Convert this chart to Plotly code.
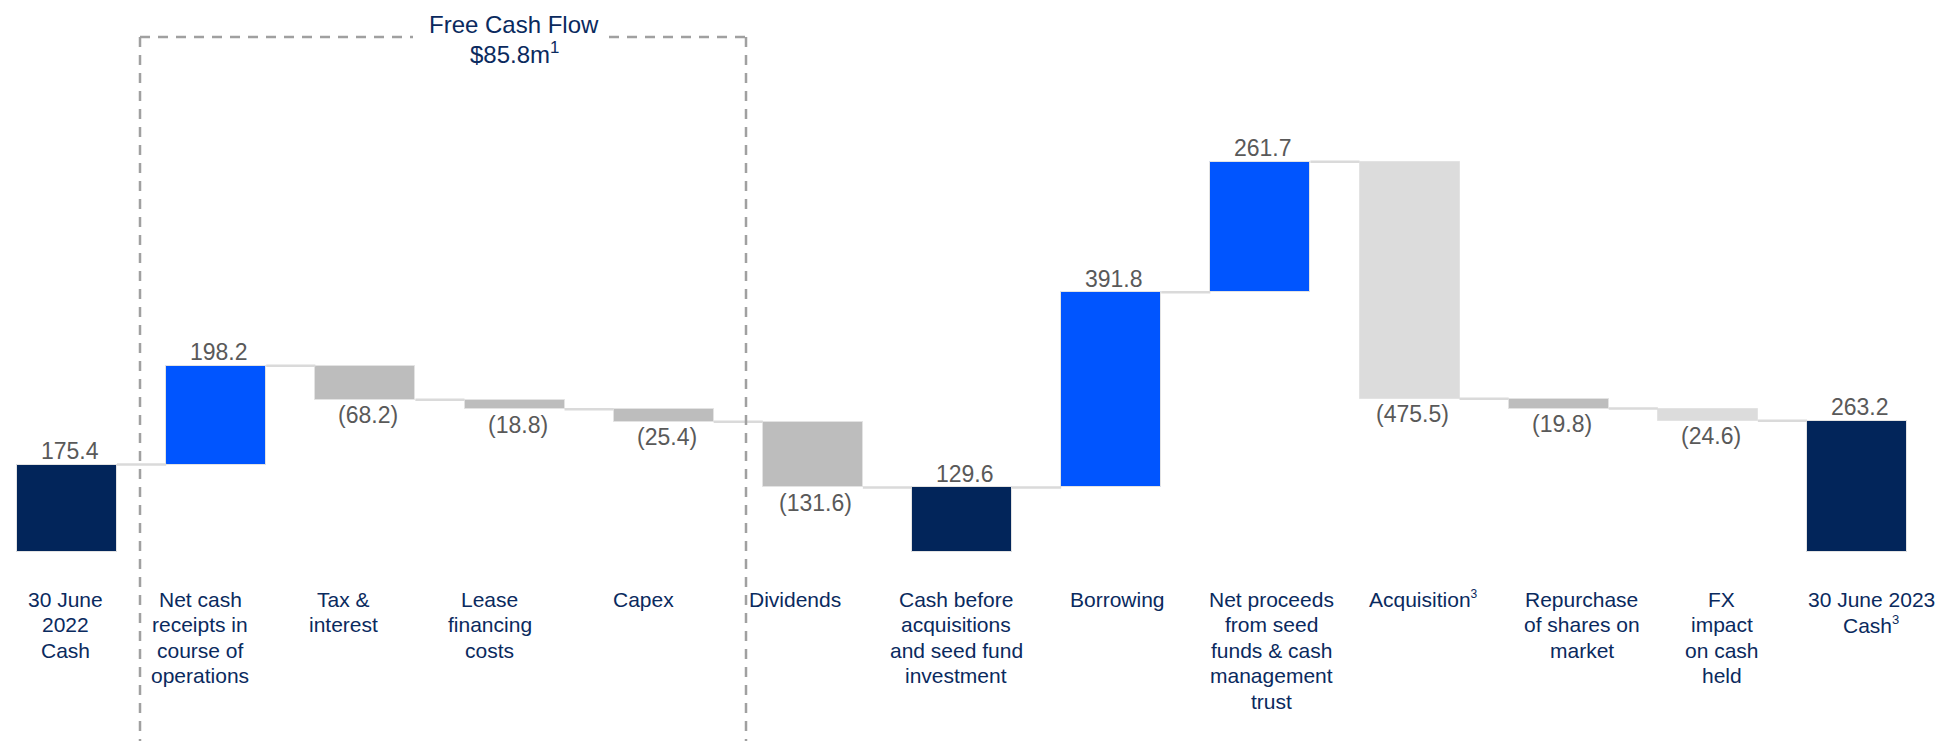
import plotly.graph_objects as go

# ---------------- data ----------------
categories = [
    "30 June<br>2022<br>Cash",
    "Net cash<br>receipts in<br>course of<br>operations",
    "Tax &<br>interest",
    "Lease<br>financing<br>costs",
    "Capex",
    "Dividends",
    "Cash before<br>acquisitions<br>and seed fund<br>investment",
    "Borrowing",
    "Net proceeds<br>from seed<br>funds & cash<br>management<br>trust",
    "Acquisition<sup><span style='font-size:12px'>3</span></sup>",
    "Repurchase<br>of shares on<br>market",
    "FX<br>impact<br>on cash<br>held",
    "30 June 2023<br>Cash<sup><span style='font-size:13px'>3</span></sup>",
]
values = [175.4, 198.2, -68.2, -18.8, -25.4, -131.6, 129.6, 391.8, 261.7, -475.5, -19.8, -24.6, 263.2]
measures = ["absolute", "relative", "relative", "relative", "relative", "relative", "total",
            "relative", "relative", "relative", "relative", "relative", "total"]
title_line1 = "Free Cash Flow"
title_line2 = "$85.8m<sup>1</sup>"

# ---------------- style ----------------
NAVY = "#02255A"
BLUE = "#0055FF"
GREY = "#BDBDBD"
LIGHT = "#DCDCDC"
bar_colors = [NAVY, BLUE, GREY, GREY, GREY, GREY, NAVY, BLUE, BLUE, LIGHT, GREY, LIGHT, NAVY]
TEXT_NAVY = "#0A2A5E"
VAL_GREY = "#595959"
FONT = "Arial, Liberation Sans, sans-serif"
WIN_W, WIN_H = 1944, 741
OFF = 8                      # default page margin of the html body
W, H = WIN_W - OFF, WIN_H - OFF
BASE_PX = 552          # window pixel row of the zero line
PX_PER_UNIT = 0.4984
STEP_PX = 149.17
FIRST_PX = 67
BAR_W = 100 / STEP_PX
label_dx = [-2, -16, -22, -25, -20, -18, -6, 6, 11, 14, 23, 14, 14]

def py(p):  # window pixel row -> paper y
    return 1 - (p - OFF) / H

def pxx(p):  # window pixel column -> paper x
    return (p - OFF) / W

# ---------------- build waterfall geometry from data ----------------
n = len(values)
xs = list(range(n))
bases, heights, levels = [], [], []
running = 0.0
for v, m in zip(values, measures):
    if m == "absolute":
        bases.append(0.0); heights.append(v); running = v
    elif m == "total":
        bases.append(0.0); heights.append(running)
    else:
        bases.append(running); heights.append(v); running += v
    levels.append(running)

fig = go.Figure()
fig.add_trace(go.Bar(
    x=xs, y=heights, base=bases, width=BAR_W,
    marker=dict(color=bar_colors, line=dict(color="#E3E3E3", width=1)),
    hoverinfo="skip", showlegend=False,
))

# connectors
cx, cy = [], []
for i in range(n - 1):
    cx += [i + BAR_W / 2, i + 1 - BAR_W / 2, None]
    cy += [levels[i], levels[i], None]
fig.add_trace(go.Scatter(x=cx, y=cy, mode="lines",
                         line=dict(color="#DADADA", width=2.5),
                         hoverinfo="skip", showlegend=False))

annotations = []
# value labels
for i, (b, h, v) in enumerate(zip(bases, heights, values)):
    end = b + h
    if h >= 0:
        txt = f"{v:.1f}"
        yshift = 13.5
    else:
        txt = f"({abs(v):.1f})"
        yshift = -15.5
    annotations.append(dict(x=i, y=end, xref="x", yref="y", text=txt, showarrow=False,
                            xanchor="center", yanchor="middle", yshift=yshift, xshift=3,
                            font=dict(family=FONT, size=23, color=VAL_GREY)))

# category labels (one annotation per line for tight line spacing)
for i, lab in enumerate(categories):
    for k, line in enumerate(lab.split("<br>")):
        annotations.append(dict(x=i, y=py(599 + 25.5 * k), xref="x", yref="paper",
                                text=line, showarrow=False, xanchor="center", yanchor="middle",
                                xshift=label_dx[i],
                                font=dict(family=FONT, size=21, color=TEXT_NAVY)))

# title of the dashed box
annotations.append(dict(x=pxx(514), y=py(25), xref="paper", yref="paper", text=title_line1,
                        showarrow=False, xanchor="center", yanchor="middle",
                        font=dict(family=FONT, size=24, color=TEXT_NAVY)))
annotations.append(dict(x=pxx(514), y=py(53), xref="paper", yref="paper", text=title_line2,
                        showarrow=False, xanchor="center", yanchor="middle",
                        font=dict(family=FONT, size=24, color=TEXT_NAVY)))

# dashed box
dash_line = dict(color="#A0A0A0", width=2.5, dash="10px,8px")
shapes = [
    dict(type="line", xref="paper", yref="paper", x0=pxx(140), x1=pxx(140), y0=py(37), y1=0, line=dash_line),
    dict(type="line", xref="paper", yref="paper", x0=pxx(746), x1=pxx(746), y0=py(37), y1=0, line=dash_line),
    dict(type="line", xref="paper", yref="paper", x0=pxx(140), x1=pxx(413), y0=py(37), y1=py(37), line=dash_line),
    dict(type="line", xref="paper", yref="paper", x0=pxx(609), x1=pxx(746), y0=py(37), y1=py(37), line=dash_line),
]

x_lo = -(FIRST_PX - OFF) / STEP_PX
x_hi = x_lo + W / STEP_PX
y_hi = (BASE_PX - OFF) / PX_PER_UNIT
y_lo = (BASE_PX - WIN_H) / PX_PER_UNIT

fig.update_layout(
    width=W, height=H,
    margin=dict(l=0, r=0, t=0, b=0),
    paper_bgcolor="white", plot_bgcolor="white",
    xaxis=dict(range=[x_lo, x_hi], visible=False, fixedrange=True),
    yaxis=dict(range=[y_lo, y_hi], visible=False, fixedrange=True),
    annotations=annotations,
    shapes=shapes,
    bargap=0,
    showlegend=False,
)

fig.write_html("out.html", config={"displayModeBar": False})
